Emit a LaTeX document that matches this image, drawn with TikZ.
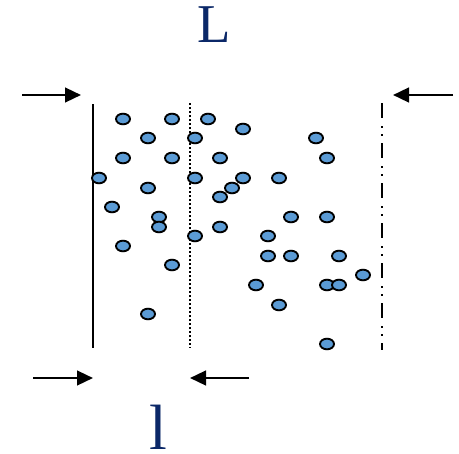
\documentclass[tikz,border=0pt]{standalone}
\usepackage{fontspec}
\setmainfont{Liberation Serif}
\usetikzlibrary{arrows.meta,positioning,shapes.geometric}
\definecolor{labelnavy}{HTML}{0B2868}
\definecolor{dotblue}{HTML}{5B9BD5}

\begin{document}
\begin{tikzpicture}[
    x=0.75pt, y=-0.75pt,
    particle/.style={draw, ellipse, fill=dotblue, line width=1.4pt, minimum width=10.5pt, minimum height=8pt, inner sep=0pt},
    wall/.style={line width=1.4pt},
    label/.style={text=labelnavy, inner sep=0pt},
    arrow/.style={-{Triangle[length=12pt,width=11pt]}, line width=1.8pt}
  ]
    \useasboundingbox (0,0) rectangle (459,453);

    % walls
    \coordinate (lefttop) at (93,104);
    \coordinate (leftbot) at (93,348);
    \coordinate (midtop) at (190,103);
    \coordinate (midbot) at (190,348);
    \coordinate (righttop) at (382,103);
    \coordinate (rightbot) at (382,350);
    \draw[wall] (lefttop) -- (leftbot);
    \draw[wall, line width=1.2pt, dash pattern=on 1.3pt off 1.7pt] (midtop) -- (midbot);
    \draw[wall, dash pattern=on 11.25pt off 6pt on 1.5pt off 4.5pt on 1.5pt off 5.25pt] (righttop) -- (rightbot);

    % particles
    \foreach \px/\py [count=\i] in {123/119, 172/119, 208/119, 243/129, 148/138, 195/138, 316/138,
        123/158, 172/158, 220/158, 327/158, 99/178, 195/178, 243/178, 279/178, 148/188, 232/188,
        220/197, 112/207, 159/217, 291/217, 327/217, 159/227, 220/227, 195/236, 268/236, 123/246,
        268/256, 291/256, 339/256, 172/265, 363/275, 256/285, 327/285, 339/285, 279/305, 148/314, 327/344}
      \node[particle] (p\i) at (\px,\py) {};

    % labels
    \node[label, font=\fontsize{41}{41}\selectfont] (biglen) at (214.5,25) {L};
    \node[label, font=\fontsize{48}{48}\selectfont] (smalllen) at (158,427) {l};

    % arrows
    \coordinate (tlstart) at (22,95);
    \coordinate (tlend) at (81,95);
    \coordinate (trstart) at (453,95);
    \coordinate (trend) at (393,95);
    \coordinate (blstart) at (33,378);
    \coordinate (blend) at (93,378);
    \coordinate (brstart) at (249,378);
    \coordinate (brend) at (190,378);
    \draw[arrow] (tlstart) -- (tlend);
    \draw[arrow] (trstart) -- (trend);
    \draw[arrow] (blstart) -- (blend);
    \draw[arrow] (brstart) -- (brend);
  \end{tikzpicture}
\end{document}
